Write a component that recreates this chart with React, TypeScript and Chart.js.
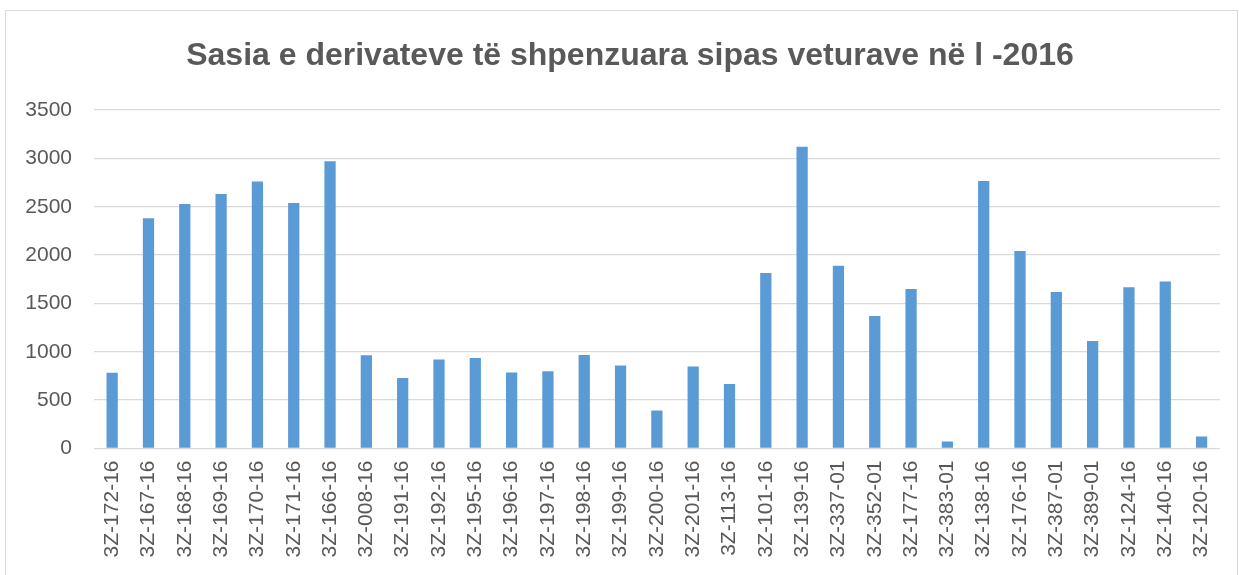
import React, { useEffect, useRef } from "react";
import { Chart, registerables } from "chart.js";

Chart.register(...registerables);

const TITLE = "Sasia e derivateve të shpenzuara sipas veturave në l -2016";

const categories: string[] = [
  "3Z-172-16", "3Z-167-16", "3Z-168-16", "3Z-169-16", "3Z-170-16", "3Z-171-16",
  "3Z-166-16", "3Z-008-16", "3Z-191-16", "3Z-192-16", "3Z-195-16", "3Z-196-16",
  "3Z-197-16", "3Z-198-16", "3Z-199-16", "3Z-200-16", "3Z-201-16", "3Z-113-16",
  "3Z-101-16", "3Z-139-16", "3Z-337-01", "3Z-352-01", "3Z-177-16", "3Z-383-01",
  "3Z-138-16", "3Z-176-16", "3Z-387-01", "3Z-389-01", "3Z-124-16", "3Z-140-16",
  "3Z-120-16",
];

const litres: number[] = [
  782, 2381, 2529, 2632, 2760, 2539, 2971, 963, 728, 921, 935, 787, 800, 966,
  859, 393, 849, 666, 1814, 3119, 1890, 1369, 1649, 72, 2767, 2042, 1618, 1111,
  1666, 1728, 124,
];

const yTicks: number[] = [0, 500, 1000, 1500, 2000, 2500, 3000, 3500];

const frameAndTitlePlugin = {
  id: "frameAndTitle",
  beforeDraw(chart: any) {
    const ctx = chart.ctx;
    ctx.save();
    ctx.fillStyle = "#ffffff";
    ctx.fillRect(0, 0, chart.width, chart.height);
    ctx.strokeStyle = "#d9d9d9";
    ctx.lineWidth = 1;
    ctx.strokeRect(5.5, 10.5, 1232, 600);
    ctx.restore();
  },
  afterDraw(chart: any) {
    const ctx = chart.ctx;
    ctx.save();
    ctx.fillStyle = "#595959";
    ctx.font = "bold 32px 'Liberation Sans', Arial, sans-serif";
    ctx.textAlign = "center";
    ctx.textBaseline = "middle";
    ctx.fillText(TITLE, 630, 56);
    ctx.restore();
  },
};

export default function App() {
  const ref = useRef<HTMLCanvasElement | null>(null);

  useEffect(() => {
    document.body.style.margin = "0";
    const canvas = ref.current;
    if (!canvas) return;
    const chart = new Chart(canvas, {
      type: "bar",
      data: {
        labels: categories,
        datasets: [
          {
            label: "Litra",
            data: litres,
            backgroundColor: "#5b9bd5",
            borderWidth: 0,
            barPercentage: 0.31,
            categoryPercentage: 1,
          },
        ],
      },
      plugins: [frameAndTitlePlugin],
      options: {
        animation: false,
        responsive: false,
        maintainAspectRatio: false,
        layout: { padding: { left: 5, top: 110, right: 14, bottom: 0 } },
        plugins: {
          legend: { display: false },
          tooltip: { enabled: false },
          title: { display: false },
        },
        scales: {
          x: {
            grid: { display: false, drawTicks: false },
            border: { display: false },
            ticks: {
              color: "#595959",
              font: { family: "'Liberation Sans', Arial, sans-serif", size: 21 },
              minRotation: 90,
              maxRotation: 90,
              autoSkip: false,
              padding: 12,
            },
            afterFit(scale: any) {
              scale.height = 126.5;
            },
          },
          y: {
            min: 0,
            max: 3500,
            afterBuildTicks(scale: any) {
              scale.ticks = yTicks.map((v) => ({ value: v }));
            },
            grid: { color: "#d9d9d9", lineWidth: 1.3, drawTicks: false },
            border: { display: false },
            ticks: {
              color: "#595959",
              font: { family: "'Liberation Sans', Arial, sans-serif", size: 21 },
              padding: 22,
              callback: (v: any) => String(v),
            },
            afterFit(scale: any) {
              scale.width = 89;
            },
          },
        },
      },
    });
    return () => chart.destroy();
  }, []);

  return (
    <div style={{ width: 1239, height: 575 }}>
      <canvas ref={ref} width={1239} height={575} style={{ display: "block" }} />
    </div>
  );
}
